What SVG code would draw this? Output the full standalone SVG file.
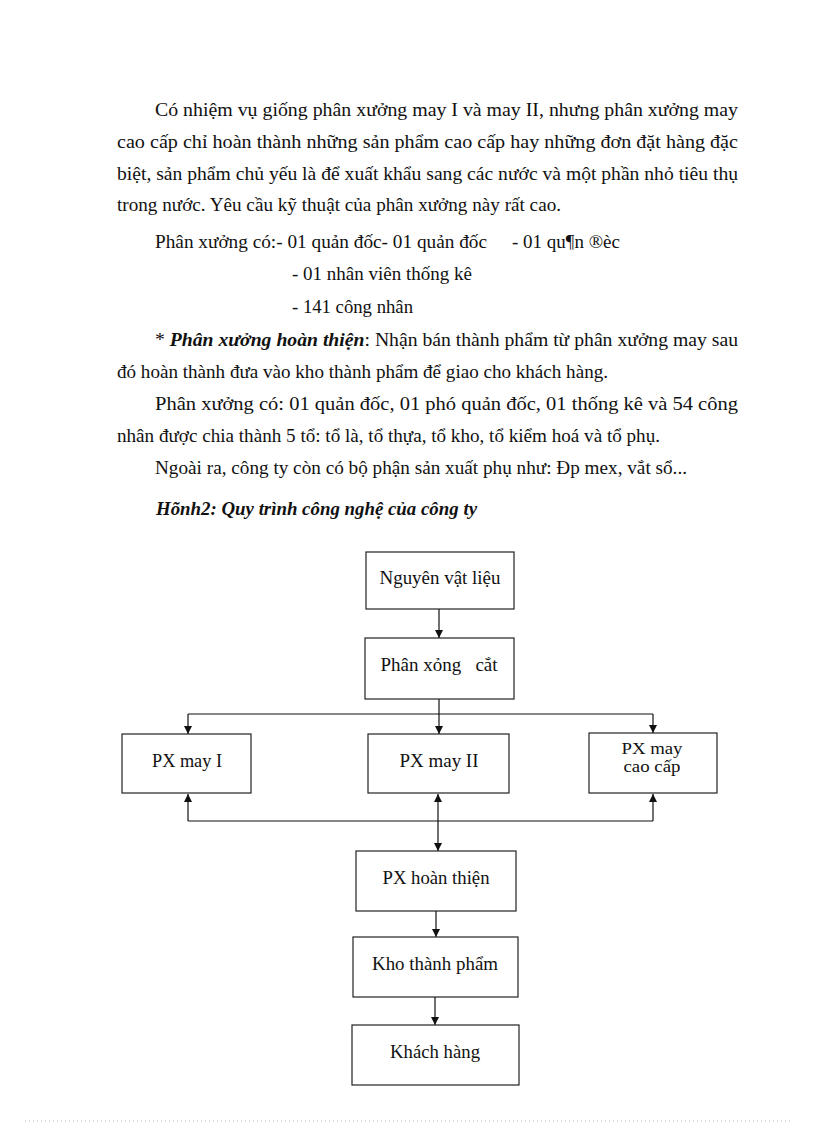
<svg xmlns="http://www.w3.org/2000/svg" width="816" height="1123" viewBox="0 0 816 1123">
<style>
.t{font-family:"Liberation Serif","Times New Roman",serif;font-size:18px;fill:#111}
.bi{font-weight:bold;font-style:italic}
.n{font-family:"Liberation Serif","Times New Roman",serif;font-size:18px;fill:#111;text-anchor:middle}
.s{font-size:16px}
.box{fill:#fff;stroke:#222;stroke-width:1.2}
.c{stroke:#111;stroke-width:1.2;fill:none}
</style>
<defs>
<marker id="ah" viewBox="0 0 10 10" refX="10" refY="5" markerWidth="9" markerHeight="8" markerUnits="userSpaceOnUse" orient="auto">
<path d="M0,0 L10,5 L0,10 z" fill="#111"/>
</marker>
</defs>
<rect width="816" height="1123" fill="#fff"/>
<g id="text">
<text class="t" x="155" y="116" textLength="583" lengthAdjust="spacingAndGlyphs">Có nhiệm vụ giống phân xưởng may I và may II, nhưng phân xưởng may</text>
<text class="t" x="117" y="148" textLength="621" lengthAdjust="spacingAndGlyphs">cao cấp chỉ hoàn thành những sản phẩm cao cấp hay những đơn đặt hàng đặc</text>
<text class="t" x="117" y="180" textLength="621" lengthAdjust="spacingAndGlyphs">biệt, sản phẩm chủ yếu là để xuất khẩu sang các nước và một phần nhỏ tiêu thụ</text>
<text class="t" x="117" y="211" textLength="444" lengthAdjust="spacingAndGlyphs">trong nước. Yêu cầu kỹ thuật của phân xưởng này rất cao.</text>
<text class="t" x="155" y="248" textLength="332" lengthAdjust="spacingAndGlyphs">Phân xưởng có:- 01 quản đốc- 01 quản đốc</text>
<text class="t" x="512" y="248" textLength="108" lengthAdjust="spacingAndGlyphs">- 01 qu¶n ®èc</text>
<text class="t" x="292" y="280" textLength="180" lengthAdjust="spacingAndGlyphs">- 01 nhân viên thống kê</text>
<text class="t" x="292" y="313" textLength="121" lengthAdjust="spacingAndGlyphs">- 141 công nhân</text>
<text class="t" x="155" y="346" textLength="583" lengthAdjust="spacingAndGlyphs">* <tspan class="bi">Phân xưởng hoàn thiện</tspan>: Nhận bán thành phẩm từ phân xưởng may sau</text>
<text class="t" x="117" y="378" textLength="491" lengthAdjust="spacingAndGlyphs">đó hoàn thành đưa vào kho thành phẩm để giao cho khách hàng.</text>
<text class="t" x="155" y="410" textLength="583" lengthAdjust="spacingAndGlyphs">Phân xưởng có: 01 quản đốc, 01 phó quản đốc, 01 thống kê và 54 công</text>
<text class="t" x="117" y="442" textLength="543" lengthAdjust="spacingAndGlyphs">nhân được chia thành 5 tổ: tổ là, tổ thựa, tổ kho, tổ kiểm hoá và tổ phụ.</text>
<text class="t" x="155" y="474" textLength="532" lengthAdjust="spacingAndGlyphs">Ngoài ra, công ty còn có bộ phận sản xuất phụ như: Đp mex, vắt sổ...</text>
<text class="t bi" x="156" y="515" textLength="321" lengthAdjust="spacingAndGlyphs">Hõnh2: Quy trình công nghệ của công ty</text>
</g>
<g id="connectors">
<line class="c" x1="439" y1="609" x2="439" y2="638" marker-end="url(#ah)"/>
<line class="c" x1="439" y1="699" x2="439" y2="734" marker-end="url(#ah)"/>
<line class="c" x1="188" y1="714" x2="653" y2="714"/>
<line class="c" x1="188" y1="714" x2="188" y2="734" marker-end="url(#ah)"/>
<line class="c" x1="653" y1="714" x2="653" y2="733" marker-end="url(#ah)"/>
<line class="c" x1="188" y1="821" x2="653" y2="821"/>
<line class="c" x1="188" y1="821" x2="188" y2="794" marker-end="url(#ah)"/>
<line class="c" x1="653" y1="821" x2="653" y2="794" marker-end="url(#ah)"/>
<line class="c" x1="438" y1="821" x2="438" y2="794" marker-end="url(#ah)"/>
<line class="c" x1="438" y1="821" x2="438" y2="851" marker-end="url(#ah)"/>
<line class="c" x1="436" y1="911" x2="436" y2="937" marker-end="url(#ah)"/>
<line class="c" x1="435" y1="997" x2="435" y2="1025" marker-end="url(#ah)"/>
</g>
<g id="n1"><rect class="box" x="366" y="552" width="148" height="57"/><text class="n" x="440" y="584" textLength="121" lengthAdjust="spacingAndGlyphs">Nguyên  vật liệu</text></g>
<g id="n2"><rect class="box" x="365" y="638" width="149" height="61"/><text class="n" x="439" y="671" xml:space="preserve" textLength="117" lengthAdjust="spacingAndGlyphs">Phân xỏng   cắt</text></g>
<g id="n3"><rect class="box" x="122" y="734" width="129" height="59"/><text class="n" x="187" y="767" textLength="70" lengthAdjust="spacingAndGlyphs">PX may I</text></g>
<g id="n4"><rect class="box" x="368" y="734" width="141" height="59"/><text class="n" x="439" y="767" textLength="79" lengthAdjust="spacingAndGlyphs">PX may II</text></g>
<g id="n5"><rect class="box" x="589" y="733" width="128" height="60"/><text class="n s" x="652" y="754" textLength="61" lengthAdjust="spacingAndGlyphs">PX may</text><text class="n s" x="652" y="772" textLength="57" lengthAdjust="spacingAndGlyphs">cao cấp</text></g>
<g id="n6"><rect class="box" x="356" y="851" width="160" height="60"/><text class="n" x="436" y="884" textLength="107" lengthAdjust="spacingAndGlyphs">PX hoàn thiện</text></g>
<g id="n7"><rect class="box" x="353" y="937" width="165" height="60"/><text class="n" x="435" y="970" textLength="126" lengthAdjust="spacingAndGlyphs">Kho thành phẩm</text></g>
<g id="n8"><rect class="box" x="352" y="1025" width="167" height="60"/><text class="n" x="435" y="1058" textLength="90" lengthAdjust="spacingAndGlyphs">Khách hàng</text></g>
<line x1="25" y1="1121" x2="792" y2="1121" stroke="#bbb" stroke-width="1" stroke-dasharray="1,3"/>
</svg>
